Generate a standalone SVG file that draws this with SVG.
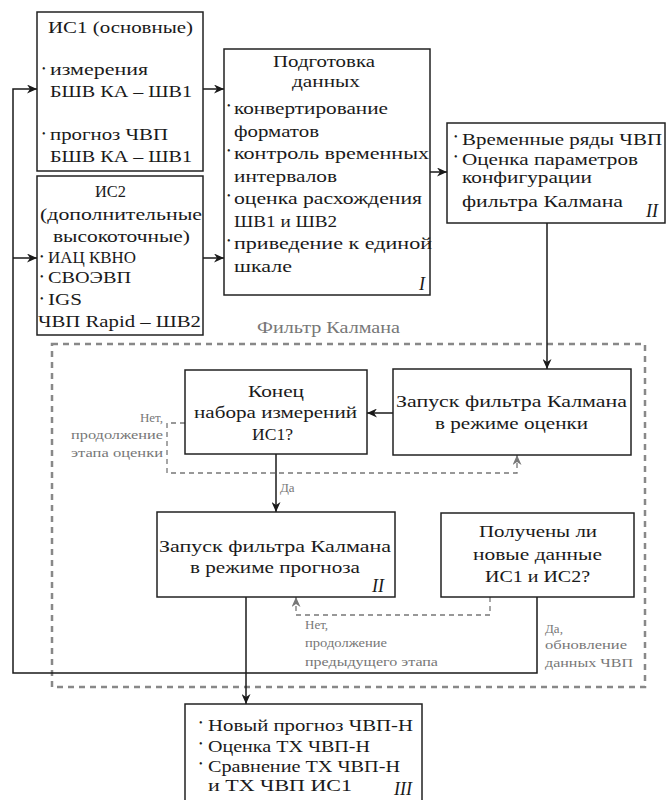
<svg xmlns="http://www.w3.org/2000/svg" width="672" height="800" viewBox="0 0 672 800">
<defs>
<marker id="ab" markerUnits="userSpaceOnUse" markerWidth="11" markerHeight="9" refX="10" refY="4.5" orient="auto"><path d="M0,0 L10,4.5 L0,9 L3,4.5 z" fill="#1a1a1a"/></marker>
<marker id="ag" markerUnits="userSpaceOnUse" markerWidth="11" markerHeight="9" refX="10" refY="4.5" orient="auto"><path d="M0,0 L10,4.5 L0,9 L3,4.5 z" fill="#777"/></marker>
<style>
rect.n{fill:#fff;stroke:#222;stroke-width:1.5}
text{font-family:"Liberation Serif","Times New Roman",serif;font-size:17px;fill:#1a1a1a}
text.b{font-size:10px}
text.r{font-style:italic;font-size:18px}
text.g{fill:#777;font-size:13px}
text.t{fill:#777;font-size:17px}
.c{fill:none;stroke:#1a1a1a;stroke-width:1.5}
.d{fill:none;stroke:#777;stroke-width:1.3;stroke-dasharray:5,4}
.f{fill:none;stroke:#888;stroke-width:2.5;stroke-dasharray:6,5}
</style>
</defs>
<g id="filter-frame">
<rect class="f" x="52" y="344" width="593" height="343"/>
<text class="t" x="257" y="333" textLength="143" lengthAdjust="spacingAndGlyphs">Фильтр Калмана</text>
</g>
<g id="connectors">
<path class="c" d="M203,89 H224" marker-end="url(#ab)"/>
<path class="c" d="M203,258 H224" marker-end="url(#ab)"/>
<path class="c" d="M430,172 H447" marker-end="url(#ab)"/>
<path class="c" d="M547,223 V369" marker-end="url(#ab)"/>
<path class="c" d="M393,413 H367" marker-end="url(#ab)"/>
<path class="c" d="M276,454 V512" marker-end="url(#ab)"/>
<path class="d" d="M185,423 H167 V473 H517 V455" marker-end="url(#ag)"/>
<path class="d" d="M490,597 V615 H296 V597" marker-end="url(#ag)"/>
<path class="c" d="M537,597 V673 H13 V89 H37" marker-end="url(#ab)"/>
<path class="c" d="M13,258 H37" marker-end="url(#ab)"/>
<path class="c" d="M246,597 V704" marker-end="url(#ab)"/>
<text class="g" x="280" y="492">Да</text>
<text class="g" x="163" y="422" text-anchor="end">Нет,</text>
<text class="g" x="163" y="439" text-anchor="end" textLength="92" lengthAdjust="spacingAndGlyphs">продолжение</text>
<text class="g" x="163" y="457" text-anchor="end" textLength="92" lengthAdjust="spacingAndGlyphs">этапа оценки</text>
<text class="g" x="305" y="629">Нет,</text>
<text class="g" x="305" y="647" textLength="82" lengthAdjust="spacingAndGlyphs">продолжение</text>
<text class="g" x="305" y="666" textLength="133" lengthAdjust="spacingAndGlyphs">предыдущего этапа</text>
<text class="g" x="545" y="633">Да,</text>
<text class="g" x="545" y="649" textLength="82" lengthAdjust="spacingAndGlyphs">обновление</text>
<text class="g" x="545" y="667" textLength="88" lengthAdjust="spacingAndGlyphs">данных ЧВП</text>
</g>
<g id="is1">
<rect class="n" x="37" y="12" width="166" height="159"/>
<text x="48" y="33" textLength="145" lengthAdjust="spacingAndGlyphs">ИС1 (основные)</text>
<text class="b" x="42" y="72">•</text>
<text x="50" y="75" textLength="98" lengthAdjust="spacingAndGlyphs">измерения</text>
<text x="50" y="97" textLength="142" lengthAdjust="spacingAndGlyphs">БШВ КА – ШВ1</text>
<text class="b" x="42" y="137">•</text>
<text x="50" y="140" textLength="118" lengthAdjust="spacingAndGlyphs">прогноз ЧВП</text>
<text x="50" y="162" textLength="142" lengthAdjust="spacingAndGlyphs">БШВ КА – ШВ1</text>
</g>
<g id="is2">
<rect class="n" x="37" y="176" width="166" height="159"/>
<text x="95" y="197" textLength="31" lengthAdjust="spacingAndGlyphs">ИС2</text>
<text x="40" y="220" textLength="162" lengthAdjust="spacingAndGlyphs">(дополнительные</text>
<text x="53" y="242" textLength="137" lengthAdjust="spacingAndGlyphs">высокоточные)</text>
<text class="b" x="40" y="260">•</text>
<text x="48" y="263" textLength="88" lengthAdjust="spacingAndGlyphs">ИАЦ КВНО</text>
<text class="b" x="40" y="280">•</text>
<text x="48" y="283" textLength="83" lengthAdjust="spacingAndGlyphs">СВОЭВП</text>
<text class="b" x="40" y="302">•</text>
<text x="48" y="305" textLength="34" lengthAdjust="spacingAndGlyphs">IGS</text>
<text x="38" y="327" textLength="163" lengthAdjust="spacingAndGlyphs">ЧВП Rapid – ШВ2</text>
</g>
<g id="prep">
<rect class="n" x="224" y="49" width="206" height="246"/>
<text x="273" y="67" textLength="102" lengthAdjust="spacingAndGlyphs">Подготовка</text>
<text x="292" y="87" textLength="68" lengthAdjust="spacingAndGlyphs">данных</text>
<text class="b" x="227" y="109">•</text>
<text x="234" y="114" textLength="154" lengthAdjust="spacingAndGlyphs">конвертирование</text>
<text x="234" y="137" textLength="85" lengthAdjust="spacingAndGlyphs">форматов</text>
<text class="b" x="227" y="154">•</text>
<text x="234" y="159" textLength="195" lengthAdjust="spacingAndGlyphs">контроль  временных</text>
<text x="234" y="182" textLength="103" lengthAdjust="spacingAndGlyphs">интервалов</text>
<text class="b" x="227" y="199">•</text>
<text x="234" y="204" textLength="188" lengthAdjust="spacingAndGlyphs">оценка расхождения</text>
<text x="234" y="227" textLength="103" lengthAdjust="spacingAndGlyphs">ШВ1 и ШВ2</text>
<text class="b" x="227" y="244">•</text>
<text x="234" y="249" textLength="198" lengthAdjust="spacingAndGlyphs">приведение к единой</text>
<text x="234" y="272" textLength="58" lengthAdjust="spacingAndGlyphs">шкале</text>
<text class="r" x="419" y="290">I</text>
</g>
<g id="series">
<rect class="n" x="447" y="123" width="218" height="100"/>
<text class="b" x="454" y="140">•</text>
<text x="462" y="145" textLength="200" lengthAdjust="spacingAndGlyphs">Временные ряды ЧВП</text>
<text class="b" x="454" y="160">•</text>
<text x="462" y="165" textLength="176" lengthAdjust="spacingAndGlyphs">Оценка параметров</text>
<text x="462" y="183" textLength="130" lengthAdjust="spacingAndGlyphs">конфигурации</text>
<text x="462" y="207" textLength="161" lengthAdjust="spacingAndGlyphs">фильтра Калмана</text>
<text class="r" x="646" y="217">II</text>
</g>
<g id="run-estimate">
<rect class="n" x="393" y="369" width="238" height="86"/>
<text x="396" y="407" textLength="231" lengthAdjust="spacingAndGlyphs">Запуск фильтра Калмана</text>
<text x="435" y="429" textLength="153" lengthAdjust="spacingAndGlyphs">в режиме оценки</text>
</g>
<g id="end-check">
<rect class="n" x="185" y="370" width="182" height="84"/>
<text x="248" y="397" textLength="56" lengthAdjust="spacingAndGlyphs">Конец</text>
<text x="194" y="418" textLength="163" lengthAdjust="spacingAndGlyphs">набора измерений</text>
<text x="252" y="440" textLength="41" lengthAdjust="spacingAndGlyphs">ИС1?</text>
</g>
<g id="run-forecast">
<rect class="n" x="157" y="512" width="238" height="85"/>
<text x="159" y="552" textLength="232" lengthAdjust="spacingAndGlyphs">Запуск фильтра Калмана</text>
<text x="190" y="573" textLength="170" lengthAdjust="spacingAndGlyphs">в режиме прогноза</text>
<text class="r" x="372" y="592">II</text>
</g>
<g id="new-data">
<rect class="n" x="441" y="513" width="193" height="84"/>
<text x="479" y="537" textLength="118" lengthAdjust="spacingAndGlyphs">Получены ли</text>
<text x="473" y="560" textLength="129" lengthAdjust="spacingAndGlyphs">новые данные</text>
<text x="485" y="582" textLength="105" lengthAdjust="spacingAndGlyphs">ИС1 и ИС2?</text>
</g>
<g id="result">
<rect class="n" x="185" y="704" width="237" height="110"/>
<text class="b" x="199" y="726">•</text>
<text x="208" y="731" textLength="205" lengthAdjust="spacingAndGlyphs">Новый прогноз ЧВП-Н</text>
<text class="b" x="199" y="747">•</text>
<text x="208" y="752" textLength="162" lengthAdjust="spacingAndGlyphs">Оценка ТХ ЧВП-Н</text>
<text class="b" x="199" y="767">•</text>
<text x="208" y="772" textLength="192" lengthAdjust="spacingAndGlyphs">Сравнение ТХ ЧВП-Н</text>
<text x="208" y="791" textLength="144" lengthAdjust="spacingAndGlyphs">и ТХ ЧВП ИС1</text>
<text class="r" x="394" y="795">III</text>
</g>
</svg>
